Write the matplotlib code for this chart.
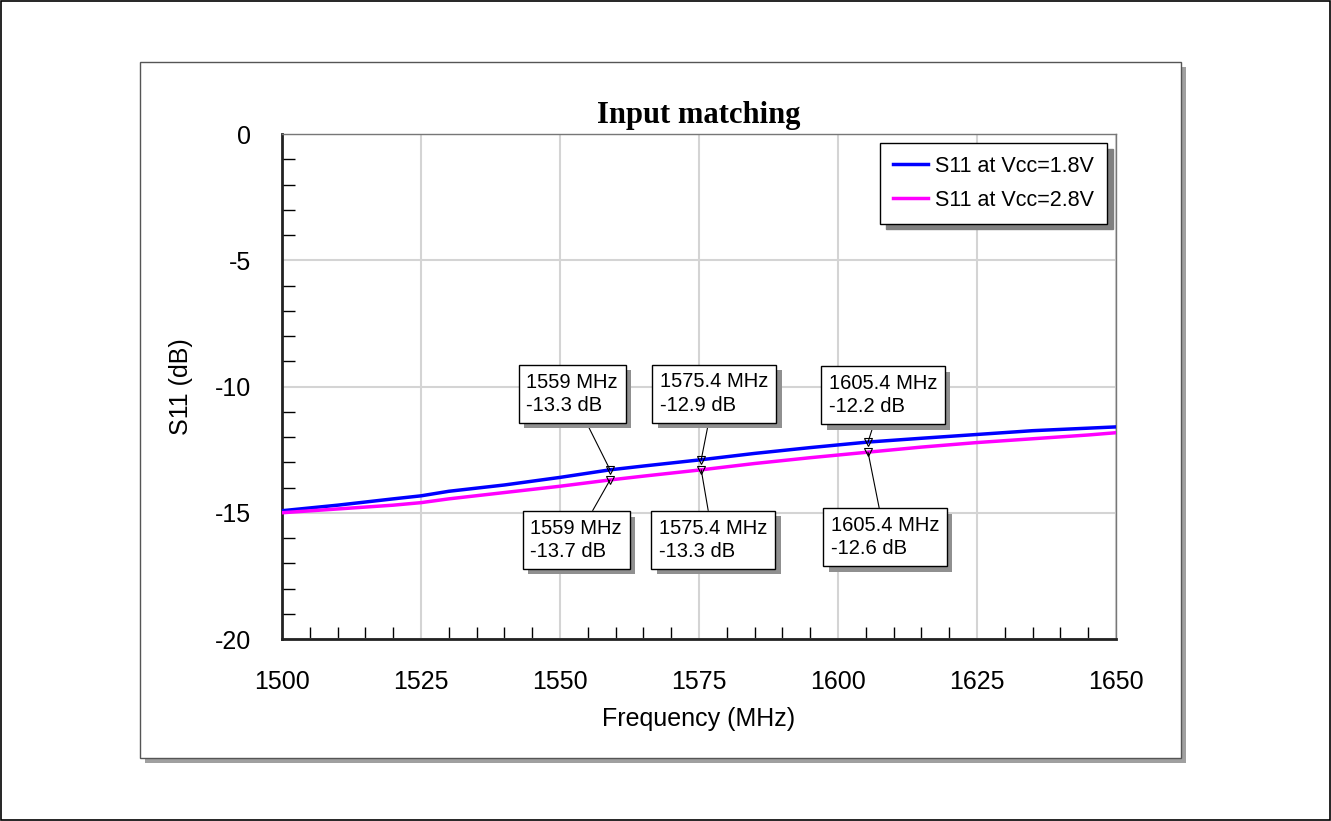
import matplotlib.pyplot as plt
import matplotlib.patheffects as pe
from matplotlib.patches import Rectangle
from matplotlib.ticker import MultipleLocator

# S11 traces
freq = [1500, 1510, 1520, 1525, 1530, 1540, 1550, 1559, 1565, 1575.4, 1585, 1595, 1605.4, 1615, 1625, 1635, 1645, 1650]
s11_18 = [-14.92, -14.7, -14.45, -14.33, -14.15, -13.9, -13.6, -13.3, -13.15, -12.9, -12.65, -12.42, -12.2, -12.05, -11.9, -11.75, -11.65, -11.6]
s11_28 = [-15.0, -14.85, -14.7, -14.6, -14.45, -14.2, -13.95, -13.7, -13.55, -13.3, -13.05, -12.82, -12.6, -12.4, -12.22, -12.07, -11.92, -11.83]

marker_freq = [1559, 1575.4, 1605.4]
marker_18 = [-13.3, -12.9, -12.2]
marker_28 = [-13.7, -13.3, -12.6]

plt.rcParams['font.family'] = ['Liberation Sans', 'DejaVu Sans']
plt.rcParams['axes.unicode_minus'] = False

fig = plt.figure(figsize=(13.31, 8.21), dpi=100)

# outer frame and shadowed panel
W, H = 1331, 821
def px(x, y, w, h):
    return (x / W, 1 - (y + h) / H), w / W, h / H
fig.patches.append(Rectangle((0.0005, 0.001), 0.999, 0.998, transform=fig.transFigure,
                             fill=False, edgecolor='black', lw=1.2, zorder=-3))
xy, w, h = px(145, 67, 1041, 696)
fig.patches.append(Rectangle(xy, w, h, transform=fig.transFigure, facecolor='#a0a0a0',
                             edgecolor='none', zorder=-2))
xy, w, h = px(140, 62, 1041, 696)
fig.patches.append(Rectangle(xy, w, h, transform=fig.transFigure, facecolor='white',
                             edgecolor='#555555', lw=1, zorder=-1))

ax = fig.add_axes([282 / W, 1 - 639 / H, (1116 - 282) / W, (639 - 134) / H])

ax.plot(freq, s11_18, color='#0000ff', lw=2.5, label='S11 at Vcc=1.8V', zorder=3)
ax.plot(freq, s11_28, color='#ff00ff', lw=2.5, label='S11 at Vcc=2.8V', zorder=3)

ax.set_xlim(1500, 1650)
ax.set_ylim(-20, 0)
ax.xaxis.set_major_locator(MultipleLocator(25))
ax.xaxis.set_minor_locator(MultipleLocator(5))
ax.yaxis.set_major_locator(MultipleLocator(5))
ax.yaxis.set_minor_locator(MultipleLocator(1))
ax.grid(True, which='major', color='#d4d4d4', lw=1.5, zorder=0)
ax.set_axisbelow(True)
ax.tick_params(which='major', length=0, labelsize=18)
ax.tick_params(axis='x', which='major', pad=22)
ax.tick_params(axis='y', which='major', pad=22)
ax.tick_params(which='minor', direction='in', length=9, width=1, color='black')
ax.tick_params(which='minor', top=False, right=False)

for s in ['left', 'bottom']:
    ax.spines[s].set_linewidth(2)
    ax.spines[s].set_color('#222222')
for s in ['top', 'right']:
    ax.spines[s].set_linewidth(1)
    ax.spines[s].set_color('#777777')

ax.set_xlabel('Frequency (MHz)', fontsize=18, labelpad=10)
ax.set_ylabel('S11 (dB)', fontsize=18, labelpad=16)
ax.set_title('Input matching', fontsize=22, fontweight='bold', family='Liberation Serif', pad=8)

leg = ax.legend(loc='upper right', fontsize=15.5, frameon=True, fancybox=False, framealpha=1,
                edgecolor='black', handlelength=1.6, handletextpad=0.35, borderpad=0.6,
                borderaxespad=0.42, labelspacing=0.6,
                shadow={'color': '#808080', 'alpha': 1, 'ox': 4, 'oy': -4})
leg.get_frame().set_linewidth(1)

# marker annotations
up_off = [(-38, 76), (13, 66), (15, 47)]
down_off = [(-34, -60), (12, -70), (17, -85)]
box_fx = [pe.SimplePatchShadow(offset=(4, -4), shadow_rgbFace='#909090', alpha=1), pe.Normal()]

def add_marker(f, v, off):
    ax.plot([f], [v], marker='v', ms=6, mfc='none', mec='black', mew=0.8, zorder=5)
    a = ax.annotate(f'{f:g} MHz\n{v:.1f} dB', xy=(f, v), xytext=off, textcoords='offset pixels',
                    ha='center', va='center', multialignment='left', fontsize=14.5,
                    linespacing=1.3, zorder=6,
                    bbox=dict(boxstyle='square,pad=0.38', facecolor='white', edgecolor='black', lw=1),
                    arrowprops=dict(arrowstyle='-', color='black', lw=0.8, shrinkA=0, shrinkB=0))
    a.get_bbox_patch().set_path_effects(box_fx)

for f, v, o in zip(marker_freq, marker_18, up_off):
    add_marker(f, v, o)
for f, v, o in zip(marker_freq, marker_28, down_off):
    add_marker(f, v, o)

fig.savefig('out.png', dpi=100)
